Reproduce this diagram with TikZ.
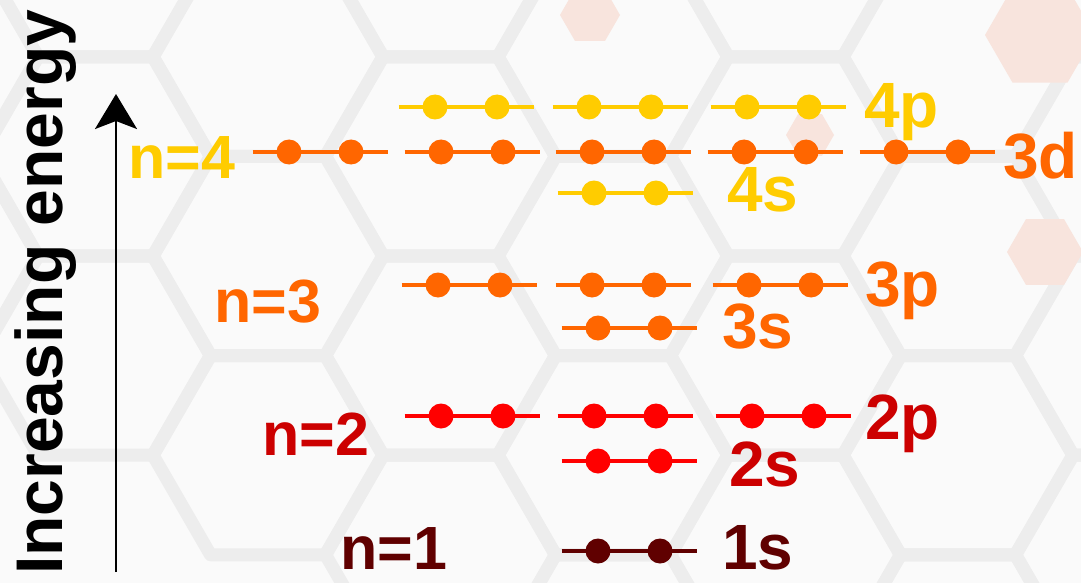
\documentclass[tikz,border=0pt]{standalone}
\usepackage{fontspec}
\setmainfont{Liberation Sans}
\usetikzlibrary{arrows.meta}

\definecolor{lvlyellow}{HTML}{FFCC00}
\definecolor{lvlorange}{HTML}{FF6600}
\definecolor{lvlred}{HTML}{FF0000}
\definecolor{lbldred}{HTML}{CC0000}
\definecolor{lvlmaroon}{HTML}{600000}
\definecolor{bgpaper}{HTML}{FAFAFA}
\definecolor{bglattice}{HTML}{EDEDED}
\definecolor{bgtile}{HTML}{F8E4DD}

\tikzset{
  orbital/.pic={
    \draw[line width=3.5pt] (-67.5,0) -- (67.5,0);
    \fill (-31,0) circle[radius=12.5pt];
    \fill (31,0) circle[radius=12.5pt];
  },
  lbl/.style={inner sep=0pt, anchor=base west,
    font=\fontsize{64}{64}\selectfont\bfseries},
  shelllbl/.style={inner sep=0pt, anchor=base west,
    font=\fontsize{61}{61}\selectfont\bfseries},
  axislbl/.style={inner sep=0pt, anchor=base west, rotate=90,
    font=\fontsize{66}{66}\selectfont\bfseries},
  lattice/.style={draw=bglattice, line width=13pt, line join=round},
  tile/.style={fill=bgtile},
}

\begin{document}
\begin{tikzpicture}[x=1pt, y=-1pt]
\useasboundingbox (0,0) rectangle (1081,583);

% faint honeycomb backdrop
\begin{scope}
  \clip (0,0) rectangle (1081,583);
  \fill[bgpaper] (0,0) rectangle (1081,583);
  \foreach \i in {-6,...,1} {
    \foreach \j in {-3,...,3} {
      \pgfmathsetmacro\cx{958+172.5*\i}
      \pgfmathsetmacro\cy{256+199.2*\j+99.6*\i}
      \draw[lattice] (\cx,\cy) +(0:115) -- +(60:115) -- +(120:115)
        -- +(180:115) -- +(240:115) -- +(300:115) -- cycle;
    }
  }
  \fill[tile] (1040,35) +(0:55) -- +(60:55) -- +(120:55) -- +(180:55)
    -- +(240:55) -- +(300:55) -- cycle;
  \fill[tile] (1045,252) +(0:38) -- +(60:38) -- +(120:38) -- +(180:38)
    -- +(240:38) -- +(300:38) -- cycle;
  \fill[tile] (810,135) +(0:24) -- +(60:24) -- +(120:24) -- +(180:24)
    -- +(240:24) -- +(300:24) -- cycle;
  \fill[tile] (590,15) +(0:30) -- +(60:30) -- +(120:30) -- +(180:30)
    -- +(240:30) -- +(300:30) -- cycle;
\end{scope}

% energy axis
\coordinate (abot) at (116,572);
\coordinate (atop) at (116,94);
\draw[line width=2.8pt, -{Stealth[length=35pt, width=42pt, inset=8pt]}]
  (abot) -- (atop);
\node[axislbl] (axis) at (62,575) {Increasing energy};

% n = 4
\pic[color=lvlyellow] (p4a) at (466,107) {orbital};
\pic[color=lvlyellow] (p4b) at (620,107) {orbital};
\pic[color=lvlyellow] (p4c) at (778,107) {orbital};
\pic[color=lvlorange] (d3a) at (320,152) {orbital};
\pic[color=lvlorange] (d3b) at (472,152) {orbital};
\pic[color=lvlorange] (d3c) at (623,152) {orbital};
\pic[color=lvlorange] (d3d) at (775,152) {orbital};
\pic[color=lvlorange] (d3e) at (927,152) {orbital};
\pic[color=lvlyellow] (s4) at (625,193) {orbital};
\node[lbl, text=lvlyellow] (l4p) at (864,128) {4p};
\node[lbl, text=lvlorange] (l3d) at (1003,178) {3d};
\node[lbl, text=lvlyellow] (l4s) at (727,211) {4s};
\node[shelllbl, text=lvlyellow] (n4) at (128,178) {n=4};

% n = 3
\pic[color=lvlorange] (p3a) at (469,285) {orbital};
\pic[color=lvlorange] (p3b) at (623,285) {orbital};
\pic[color=lvlorange] (p3c) at (780,285) {orbital};
\pic[color=lvlorange] (s3) at (629,328) {orbital};
\node[lbl, text=lvlorange] (l3p) at (865,306) {3p};
\node[lbl, text=lvlorange] (l3s) at (722,348) {3s};
\node[shelllbl, text=lvlorange] (n3) at (214,322) {n=3};

% n = 2
\pic[color=lvlred] (p2a) at (472,416) {orbital};
\pic[color=lvlred] (p2b) at (625,416) {orbital};
\pic[color=lvlred] (p2c) at (783,416) {orbital};
\pic[color=lvlred] (s2) at (629,461) {orbital};
\node[lbl, text=lbldred] (l2p) at (865,439) {2p};
\node[lbl, text=lbldred] (l2s) at (729,486) {2s};
\node[shelllbl, text=lbldred] (n2) at (262,455) {n=2};

% n = 1
\pic[color=lvlmaroon] (s1) at (629,551) {orbital};
\node[lbl, text=lvlmaroon] (l1s) at (722,569) {1s};
\node[shelllbl, text=lvlmaroon] (n1) at (340,569) {n=1};
\end{tikzpicture}
\end{document}
